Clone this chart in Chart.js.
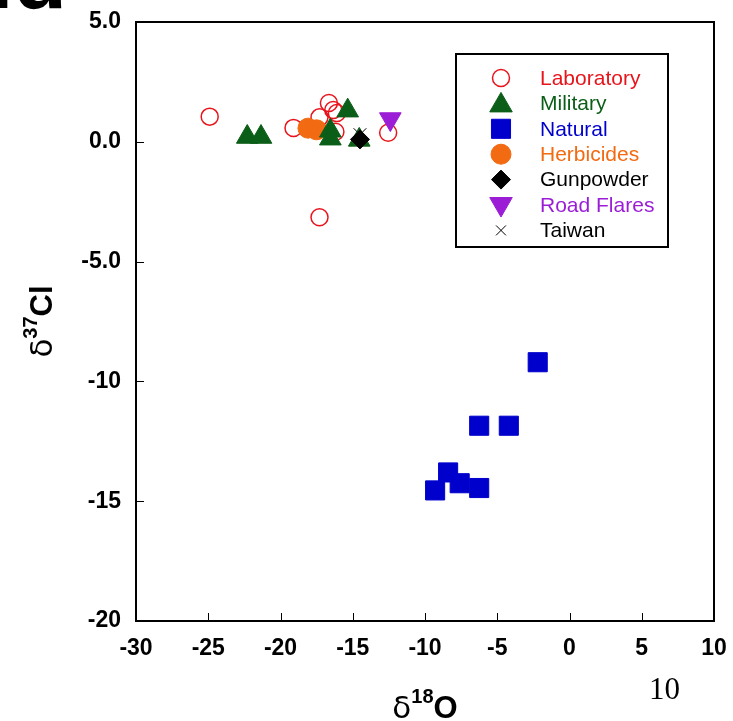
<!DOCTYPE html>
<html>
<head>
<meta charset="utf-8">
<script src="https://cdn.jsdelivr.net/npm/chart.js@4.4.0/dist/chart.umd.min.js"></script>
<style>
  html, body { margin: 0; padding: 0; background: #fff; }
  #wrap { width: 733px; height: 721px; }
</style>
</head>
<body>
<div id="wrap"><canvas id="scatter" width="733" height="721"></canvas></div>
<script>
// axis ticks
const xTicks = [-30, -25, -20, -15, -10, -5, 0, 5, 10];
const yTicks = [5, 0, -5, -10, -15, -20];
const yTickLabels = ['5.0', '0.0', '-5.0', '-10', '-15', '-20'];

// series (d18O, d37Cl)
const labX = [-24.9, -19.1, -17.3, -16.65, -16.35, -16.1, -16.2, -12.55, -17.3];
const labY = [1.05, 0.58, 1.02, 1.62, 1.33, 1.2, 0.42, 0.38, -3.15];
const milX = [-22.3, -21.35, -16.55, -16.55, -15.35, -14.55];
const milY = [0.2, 0.2, 0.46, 0.13, 1.3, 0.08];
const natX = [-2.2, -6.25, -4.2, -8.4, -9.3, -7.6, -6.25];
const natY = [-9.2, -11.85, -11.85, -13.8, -14.55, -14.25, -14.45];
const herbX = [-18.1, -17.5];
const herbY = [0.57, 0.5];
const gunX = [-14.5];
const gunY = [0.1];
const flareX = [-12.4];
const flareY = [0.95];
const taiwanX = [-14.5];
const taiwanY = [0.3];

const COLORS = {
  red: '#e8141b',
  green: '#0b5e17',
  blue: '#0000cd',
  orange: '#f26a11',
  black: '#000000',
  purple: '#9b1dd6'
};

let toPoints = (xs, ys) => xs.map((x, i) => ({ x: x, y: ys[i] }));

const datasets = [
  { label: 'Laboratory', data: toPoints(labX, labY), pointStyle: 'circle', pointRadius: 8.5,
    backgroundColor: 'rgba(0,0,0,0)', borderColor: COLORS.red, borderWidth: 1.5, order: 7 },
  { label: 'Military', data: toPoints(milX, milY), pointStyle: 'triangle', pointRadius: 12.5,
    backgroundColor: COLORS.green, borderColor: COLORS.green, borderWidth: 1, order: 5 },
  { label: 'Natural', data: toPoints(natX, natY), pointStyle: 'rect', pointRadius: 13.5,
    backgroundColor: COLORS.blue, borderColor: COLORS.blue, borderWidth: 1, order: 1 },
  { label: 'Herbicides', data: toPoints(herbX, herbY), pointStyle: 'circle', pointRadius: 10,
    backgroundColor: COLORS.orange, borderColor: COLORS.orange, borderWidth: 1, order: 6 },
  { label: 'Gunpowder', data: toPoints(gunX, gunY), pointStyle: 'rectRot', pointRadius: 9.5,
    backgroundColor: COLORS.black, borderColor: COLORS.black, borderWidth: 1, order: 3 },
  { label: 'Road Flares', data: toPoints(flareX, flareY), pointStyle: 'triangle', rotation: 180, pointRadius: 12.5,
    backgroundColor: COLORS.purple, borderColor: COLORS.purple, borderWidth: 1, order: 2 },
  { label: 'Taiwan', data: toPoints(taiwanX, taiwanY), pointStyle: 'crossRot', pointRadius: 9,
    backgroundColor: COLORS.black, borderColor: COLORS.black, borderWidth: 1, order: 4 }
];

// legend inside the plot, marker style taken from each dataset
function drawLegend(chart) {
  const ctx = chart.ctx;
  ctx.save();
  ctx.fillStyle = '#fff';
  ctx.fillRect(456, 54, 212, 193);
  ctx.strokeStyle = '#000';
  ctx.lineWidth = 2;
  ctx.strokeRect(456, 54, 212, 193);
  ctx.font = '21px "Liberation Sans", Arial, sans-serif';
  ctx.textBaseline = 'middle';
  ctx.textAlign = 'left';
  chart.data.datasets.forEach((ds, i) => {
    const y = 78 + i * 25.4;
    ctx.fillStyle = ds.backgroundColor;
    ctx.strokeStyle = ds.borderColor;
    ctx.lineWidth = ds.borderWidth;
    let r = ds.pointRadius;
    if (ds.pointStyle === 'triangle') r = 13;
    if (ds.pointStyle === 'crossRot') r = 7;
    Chart.helpers.drawPoint(ctx, {
      pointStyle: ds.pointStyle, radius: r, rotation: ds.rotation || 0, borderWidth: ds.borderWidth
    }, 501, y + (ds.pointStyle === 'triangle' ? (ds.rotation ? -1 : 2) : 0));
    ctx.fillStyle = ds.borderColor;
    ctx.fillText(ds.label, 540, y + 1);
  });
  ctx.restore();
}

function drawTitle(ctx, parts) {
  // parts: [text, font, raise]
  let total = 0;
  parts.forEach(p => { ctx.font = p[1]; total += ctx.measureText(p[0]).width; });
  let x = -total / 2;
  parts.forEach(p => {
    ctx.font = p[1];
    ctx.fillText(p[0], x, -p[2]);
    x += ctx.measureText(p[0]).width;
  });
}

const decorPlugin = {
  id: 'decor',
  beforeDatasetsDraw(chart) {
    const ctx = chart.ctx;
    const a = chart.chartArea;
    const xs = chart.scales.x, ys = chart.scales.y;
    ctx.save();
    ctx.strokeStyle = '#000';
    ctx.lineWidth = 1;
    ctx.beginPath();
    xTicks.slice(1, -1).forEach(v => {
      const px = Math.round(xs.getPixelForValue(v)) + 0.5;
      ctx.moveTo(px, a.bottom);
      ctx.lineTo(px, a.bottom - 8);
    });
    yTicks.slice(1, -1).forEach(v => {
      const py = Math.round(ys.getPixelForValue(v)) + 0.5;
      ctx.moveTo(a.left, py);
      ctx.lineTo(a.left + 8, py);
    });
    ctx.stroke();
    ctx.lineWidth = 2;
    ctx.strokeRect(a.left, a.top, a.right - a.left, a.bottom - a.top);
    ctx.restore();
  },
  afterDraw(chart) {
    const ctx = chart.ctx;
    const a = chart.chartArea;
    drawLegend(chart);

    ctx.save();
    ctx.fillStyle = '#000';
    ctx.textBaseline = 'alphabetic';
    ctx.textAlign = 'left';
    const big = 'bold 31px "Liberation Sans", Arial, sans-serif';
    const delta = '31px "DejaVu Sans", "Liberation Sans", sans-serif';
    const sup = 'bold 20px "Liberation Sans", Arial, sans-serif';

    // x axis title
    ctx.save();
    ctx.translate((a.left + a.right) / 2, 718);
    drawTitle(ctx, [['δ', delta, 0], ['18', sup, 15], ['O', big, 0]]);
    ctx.restore();

    // y axis title
    ctx.save();
    ctx.translate(52, (a.top + a.bottom) / 2);
    ctx.rotate(-Math.PI / 2);
    drawTitle(ctx, [['δ', delta, 0], ['37', sup, 15], ['Cl', big, 0]]);
    ctx.restore();

    // page number
    ctx.font = '31px "Liberation Serif", "Times New Roman", serif';
    ctx.fillText('10', 649, 699);

    // clipped panel letter at the top
    ctx.font = 'bold 88px "Liberation Sans", Arial, sans-serif';
    ctx.textAlign = 'right';
    ctx.fillText('Id', 67, 8);
    ctx.restore();
  }
};

const tickFont = { family: '"Liberation Sans", Arial, sans-serif', size: 23, weight: 'bold' };

const config = {
  type: 'scatter',
  data: { datasets: datasets },
  options: {
    responsive: false,
    animation: false,
    devicePixelRatio: 1,
    layout: { padding: { top: 22, right: 19, left: 0, bottom: 0 } },
    plugins: {
      legend: { display: false },
      tooltip: { enabled: false }
    },
    scales: {
      x: {
        type: 'linear',
        min: -30,
        max: 10,
        afterBuildTicks: s => { s.ticks = xTicks.map(v => ({ value: v })); },
        afterFit: s => { s.height = 100; s.paddingLeft = 0; s.paddingRight = 0; },
        grid: { display: false, drawTicks: false },
        border: { display: false },
        ticks: { color: '#000', font: tickFont, padding: 14, maxRotation: 0, autoSkip: false,
          callback: v => String(v) }
      },
      y: {
        type: 'linear',
        min: -20,
        max: 5,
        afterBuildTicks: s => { s.ticks = yTicks.map(v => ({ value: v })); },
        afterFit: s => { s.width = 136; s.paddingTop = 0; s.paddingBottom = 0; },
        grid: { display: false, drawTicks: false },
        border: { display: false },
        ticks: { color: '#000', font: tickFont, padding: 15, autoSkip: false,
          callback: v => yTickLabels[yTicks.indexOf(v)] }
      }
    }
  },
  plugins: [decorPlugin]
};

const myChart = new Chart(document.getElementById('scatter'), config);
</script>
</body>
</html>
